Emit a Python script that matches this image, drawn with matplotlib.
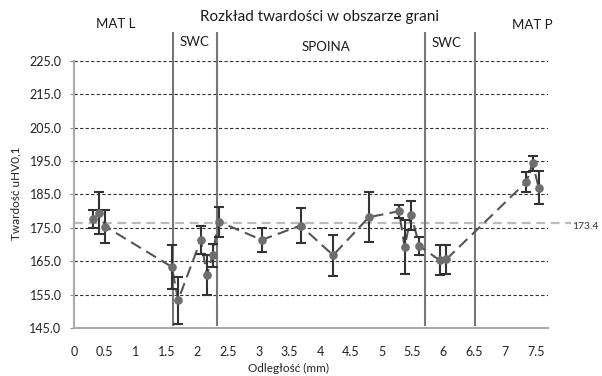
import matplotlib
matplotlib.use("Agg")
import matplotlib.pyplot as plt

plt.rcParams['font.family'] = ['Lato', 'DejaVu Sans']

# Data
x_mm = [0.31, 0.41, 0.51, 1.59, 1.69, 2.06, 2.16, 2.25, 2.35,
        3.05, 3.68, 4.21, 4.79, 5.28, 5.37, 5.48, 5.61, 5.94, 6.05,
        7.35, 7.45, 7.55]
hardness = [177.7, 179.4, 175.4, 163.3, 153.3, 171.4, 160.8, 166.8, 176.9,
            171.4, 175.7, 166.8, 178.2, 180.0, 169.3, 178.8, 169.6, 165.3, 165.6,
            188.8, 194.3, 187.0]
err = [2.8, 6.2, 4.9, 6.6, 7.0, 4.3, 6.0, 3.5, 4.5,
       3.7, 5.3, 6.2, 7.4, 1.9, 8.0, 4.3, 2.7, 4.5, 4.3,
       3.0, 2.3, 4.9]

avg_line = 176.4
avg_label = '173.4'

boundaries = [1.61, 2.32, 5.70, 6.51]
region_names = ['MAT L', 'SWC', 'SPOINA', 'SWC', 'MAT P']
region_x = [0.67, 1.96, 4.10, 6.05, 7.45]
region_y = [236.1, 230.7, 229.2, 230.4, 235.8]

xticks = [0, 0.5, 1, 1.5, 2, 2.5, 3, 3.5, 4, 4.5, 5, 5.5, 6, 6.5, 7, 7.5]
xtick_labels = ['0', '0.5', '1', '1.5', '2', '2.5', '3', '3.5', '4', '4.5',
                '5', '5.5', '6', '6.5', '7', '7.5']
yticks = [145, 155, 165, 175, 185, 195, 205, 215, 225]

title = 'Rozkład twardości w obszarze grani'
xlabel = 'Odległość (mm)'
ylabel = 'Twardość uHV0,1'

fig = plt.figure(figsize=(6.02, 3.76), dpi=100)
ax = fig.add_axes([74/602, 1-328/376, (548-74)/602, (328-61)/376])
ax.set_xlim(0, 7.7)
ax.set_ylim(145, 225)

# grid
for yv in yticks[1:]:
    ax.axhline(yv, color='#333333', lw=0.8, ls=(0, (3, 2)), zorder=1)

# average line
ax.plot([0, 8.07], [avg_line, avg_line], color='#bbbbbb', lw=1.6,
        ls=(0, (4, 2.5)), clip_on=False, zorder=2)
ax.text(8.1, avg_line - 0.9, avg_label, fontsize=7.5, color='#333333',
        va='center', ha='left', clip_on=False)

# boundaries
for b in boundaries:
    ax.plot([b, b], [145.9, 233.4], color='#777777', lw=1.5, clip_on=False, zorder=2)

# data line
ax.plot(x_mm, hardness, color='#555555', lw=1.5, ls=(0, (5.5, 3)), zorder=3)
ax.errorbar(x_mm, hardness, yerr=err, fmt='none', ecolor='#333333',
            elinewidth=1.5, capsize=3.5, capthick=1.5, zorder=4)
ax.plot(x_mm, hardness, 'o', color='#6e6e6e', ms=5.2, zorder=5)

for name, rx, ry in zip(region_names, region_x, region_y):
    ax.text(rx, ry, name, fontsize=9.5, color='#1a1a1a', ha='center',
            va='center', clip_on=False)

fig.text(319/602, 1-17/376, title, fontsize=11, ha='center', va='center',
         color='#1a1a1a')
fig.text(288/602, 1-368/376, xlabel, fontsize=8.5, ha='center', va='center',
         color='#222222')
fig.text(16/602, 1-193/376, ylabel, fontsize=8.5, ha='center', va='center',
         rotation=90, color='#222222')

ax.set_xticks(xticks)
ax.set_xticklabels(xtick_labels)
ax.set_yticks(yticks)
ax.set_yticklabels([f'{v:.1f}' for v in yticks])
ax.tick_params(axis='x', length=0, pad=13, labelsize=9, labelcolor='#222222')
ax.tick_params(axis='y', length=3, width=0.8, color='#888888', pad=6,
               labelsize=9, labelcolor='#222222')

for s in ['top', 'right']:
    ax.spines[s].set_visible(False)
for s in ['left', 'bottom']:
    ax.spines[s].set_color('#aaaaaa')
    ax.spines[s].set_linewidth(1.5)

fig.savefig('out.png', dpi=100)
